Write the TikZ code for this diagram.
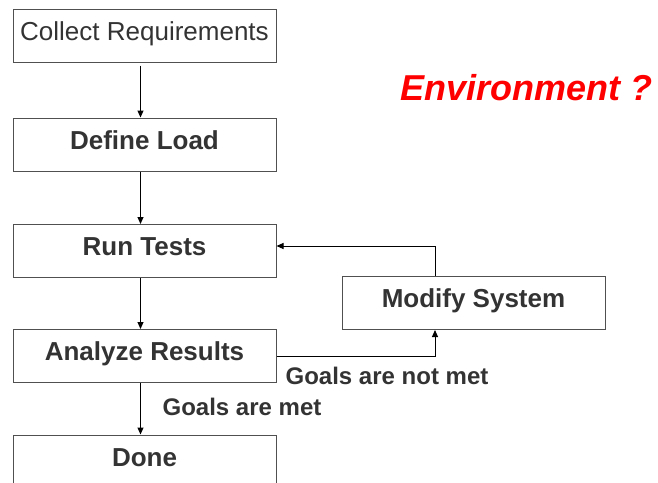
\documentclass[tikz,border=0pt]{standalone}
\usepackage{fontspec}
\setmainfont{Liberation Sans}
\usetikzlibrary{arrows.meta}
\definecolor{boxline}{HTML}{505050}
\definecolor{boxtext}{HTML}{333333}

\begin{document}
\begin{tikzpicture}[x=1pt,y=-1pt,
	stepbox/.style={draw=boxline,line width=1pt,text=boxtext,minimum width=263pt,inner xsep=0pt,inner ysep=4pt,
		text height=27pt,text depth=18pt,font=\fontsize{26}{30}\selectfont\bfseries},
	goal/.style={text=boxtext,inner sep=0pt,font=\fontsize{24}{27}\selectfont\bfseries},
	arr/.style={-{Triangle[length=7pt,width=6pt]},line width=1pt}]
	\clip (0,0) rectangle (658,482);
	
	%boxes
	\node[stepbox,font=\fontsize{26}{30}\selectfont] (collect) at (144.5,35.5) {Collect Requirements};
	\node[stepbox] (define)  at (144.5,144.5) {Define Load};
	\node[stepbox] (run)     at (144.5,251)   {Run Tests};
	\node[stepbox] (modify)  at (473.5,303)   {Modify System};
	\node[stepbox] (analyze) at (144.5,356)   {Analyze Results};
	\node[stepbox] (done)    at (144.5,461.5) {Done};
	
	%arrows
	\draw[arr,shorten <=3pt] ([xshift=-4pt]collect.south) -- ([xshift=-4pt]define.north);	%collect--define
	\draw[arr] ([xshift=-4pt]define.south) -- ([xshift=-4pt]run.north);					%define--run
	\draw[arr] ([xshift=-4pt]run.south) -- ([xshift=-4pt]analyze.north);				%run--analyze
	\draw[arr] ([xshift=-4pt]analyze.south) -- ([xshift=-4pt]done.north);				%analyze--done
	\draw[arr] (analyze.east) -| ([xshift=-38.5pt]modify.south);						%analyze--modify
	\draw[arr] ([xshift=-38.5pt]modify.north) |- ([yshift=5pt]run.east);				%modify--run
	
	%labels
	\node[goal] (notmet) at (387,376) {Goals are not met};
	\node[goal] (met)    at (242,407) {Goals are met};
	\node[text=red,font=\fontsize{36}{42}\selectfont\bfseries\itshape] (env) at (526.5,88) {Environment ?};
\end{tikzpicture}
\end{document}
